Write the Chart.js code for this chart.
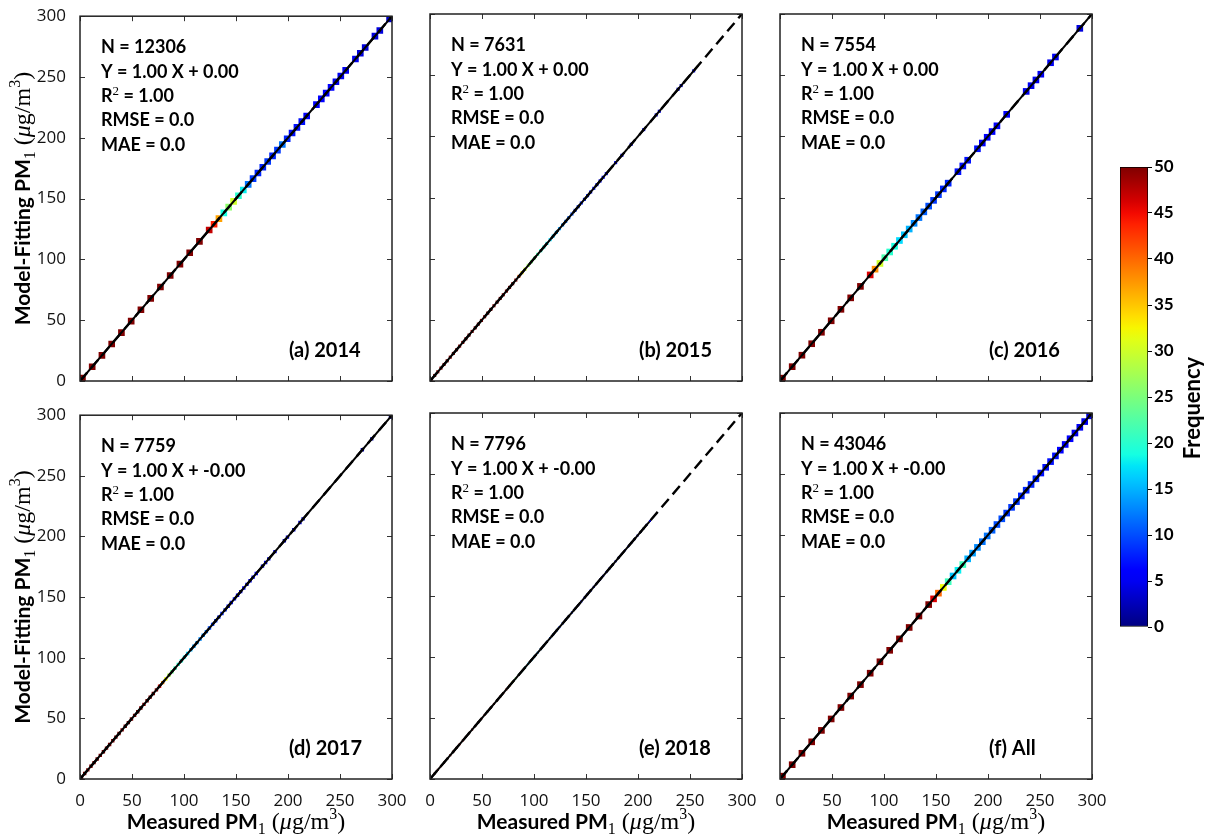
<!DOCTYPE html>
<html>
<head>
<meta charset="utf-8">
<title>PM1 model fitting</title>
<script src="https://cdn.jsdelivr.net/npm/chart.js@4.4.1/dist/chart.umd.min.js"></script>
<style>
  html, body { margin: 0; padding: 0; background: #fff; }
  #fig { position: relative; width: 1210px; height: 838px; overflow: hidden; }
  #fig canvas { position: absolute; }
</style>
</head>
<body>
<div id="fig"></div>
<script>
// ---------- data ----------
// coarse 2-D histogram bins (a, c, f): 64 bins over 0-300, centre of each bin
const coarseBins = [2.34, 7.03, 11.72, 16.41, 21.09, 25.78, 30.47, 35.16, 39.84, 44.53,
  49.22, 53.91, 58.59, 63.28, 67.97, 72.66, 77.34, 82.03, 86.72, 91.41,
  96.09, 100.78, 105.47, 110.16, 114.84, 119.53, 124.22, 128.91, 133.59, 138.28,
  142.97, 147.66, 152.34, 157.03, 161.72, 166.41, 171.09, 175.78, 180.47, 185.16,
  189.84, 194.53, 199.22, 203.91, 208.59, 213.28, 217.97, 222.66, 227.34, 232.03,
  236.72, 241.41, 246.09, 250.78, 255.47, 260.16, 264.84, 269.53, 274.22, 278.91,
  283.59, 288.28, 292.97, 297.66];
// fine bins (b, d, e): width 3
const fineBins = [1.5, 4.5, 7.5, 10.5, 13.5, 16.5, 19.5, 22.5, 25.5, 28.5,
  31.5, 34.5, 37.5, 40.5, 43.5, 46.5, 49.5, 52.5, 55.5, 58.5,
  61.5, 64.5, 67.5, 70.5, 73.5, 76.5, 79.5, 82.5, 85.5, 88.5,
  91.5, 94.5, 97.5, 100.5, 103.5, 106.5, 109.5, 112.5, 115.5, 118.5,
  121.5, 124.5, 127.5, 130.5, 133.5, 136.5, 139.5, 142.5, 145.5, 148.5,
  151.5, 154.5, 157.5, 160.5, 163.5, 166.5, 169.5, 172.5, 175.5, 178.5,
  181.5, 184.5, 187.5, 190.5, 193.5, 196.5, 199.5, 202.5, 205.5, 208.5,
  211.5, 214.5, 217.5, 220.5, 223.5, 226.5, 229.5, 232.5, 235.5, 238.5,
  241.5, 244.5, 247.5, 250.5, 253.5, 256.5, 259.5, 262.5, 265.5, 268.5,
  271.5, 274.5, 277.5, 280.5, 283.5, 286.5, 289.5, 292.5, 295.5, 298.5];

// frequency per diagonal bin (0 = empty bin)
const freqA = [60, 0, 60, 0, 60, 0, 60, 0, 60, 0, 60, 0, 60, 0, 60, 0, 60, 0, 60, 0,
  60, 0, 60, 0, 60, 0, 47, 44, 37, 19, 26, 30, 20, 18, 12, 9, 8, 8, 9, 8,
  9, 12, 8, 7, 7, 7, 6, 0, 6, 6, 6, 6, 5, 5, 5, 0, 5, 4, 4, 0,
  4, 4, 0, 3];
const freqB = [55, 55, 55, 55, 55, 55, 55, 55, 55, 55, 55, 55, 55, 55, 55, 55, 55, 55, 55, 55,
  55, 55, 55, 55, 55, 55, 55, 55, 40, 33, 30, 27, 25, 24, 22, 20, 19, 18, 17, 16,
  15, 14, 13, 12, 11, 10, 9, 9, 8, 8, 8, 7, 7, 7, 6, 6, 5, 0, 0, 5,
  0, 5, 0, 0, 4, 0, 0, 0, 4, 0, 0, 0, 4, 4, 0, 0, 0, 0, 0, 3,
  3, 0, 0, 0, 3];
const freqC = [60, 0, 60, 0, 60, 0, 60, 0, 60, 0, 60, 0, 60, 0, 60, 0, 60, 0, 46, 38,
  30, 22, 20, 19, 17, 16, 15, 13, 12, 11, 10, 9, 9, 8, 8, 0, 7, 7, 7, 0,
  7, 6, 6, 6, 6, 0, 6, 0, 0, 0, 5, 5, 5, 5, 0, 5, 5, 0, 0, 0,
  0, 4];
const freqD = [55, 55, 55, 55, 55, 55, 55, 55, 55, 55, 55, 55, 55, 55, 55, 55, 55, 55, 55, 55,
  55, 55, 55, 55, 55, 45, 38, 32, 28, 24, 21, 20, 19, 18, 17, 15, 14, 14, 13, 13,
  12, 10, 9, 9, 8, 8, 8, 7, 7, 7, 6, 6, 6, 5, 5, 5, 5, 0, 4, 4,
  4, 0, 4, 0, 0, 3, 3, 0, 3, 0, 3, 3, 0, 0, 0, 0, 0, 0, 0, 0,
  0, 0, 0, 0, 0, 0, 0, 0, 0, 0, 2, 0, 0, 2, 0, 0, 0, 0, 0, 2];
const freqE = [55, 55, 55, 55, 55, 55, 55, 55, 55, 55, 55, 55, 55, 55, 55, 55, 55, 55, 55, 55,
  55, 55, 55, 55, 55, 40, 32, 25, 22, 20, 18, 17, 16, 15, 14, 13, 12, 11, 11, 10,
  10, 9, 9, 8, 8, 8, 7, 7, 7, 6, 6, 5, 5, 5, 5, 4, 4, 4, 4, 4,
  3, 3, 3, 3, 3, 3, 2, 2, 2, 2, 2];
const freqF = [60, 0, 60, 0, 60, 0, 60, 0, 60, 0, 60, 0, 60, 0, 60, 0, 60, 0, 60, 0,
  60, 0, 60, 0, 60, 0, 60, 0, 60, 0, 60, 46, 40, 32, 21, 16, 18, 21, 15, 14,
  13, 12, 12, 11, 10, 10, 9, 9, 9, 8, 8, 8, 8, 7, 7, 7, 7, 6, 6, 6,
  5, 5, 5, 4];

const panelLabels = ['(a) 2014', '(b) 2015', '(c) 2016', '(d) 2017', '(e) 2018', '(f) All'];
const sampleSizes = ['12306', '7631', '7554', '7759', '7796', '43046'];
const fitEquations = ['1.00 X + 0.00', '1.00 X + 0.00', '1.00 X + 0.00',
  '1.00 X + -0.00', '1.00 X + -0.00', '1.00 X + -0.00'];
const r2Values = ['1.00', '1.00', '1.00', '1.00', '1.00', '1.00'];
const rmseValues = ['0.0', '0.0', '0.0', '0.0', '0.0', '0.0'];
const maeValues = ['0.0', '0.0', '0.0', '0.0', '0.0', '0.0'];
// the regression line is drawn over the measured range, the 1:1 line over the whole axis
const fitRangeMax = [300, 258, 300, 300, 211, 300];
const axisRange = [0, 300];
const axisTicks = [0, 50, 100, 150, 200, 250, 300];
const colorbarRange = [0, 50];
const colorbarTicks = [0, 5, 10, 15, 20, 25, 30, 35, 40, 45, 50];

// ---------- helpers ----------
function channel(t, pts) {
  for (let i = 1; i < pts.length; i++) {
    if (t <= pts[i][0]) {
      const [x0, y0] = pts[i - 1], [x1, y1] = pts[i];
      return y0 + (y1 - y0) * (t - x0) / (x1 - x0);
    }
  }
  return pts[pts.length - 1][1];
}
// matplotlib "jet"
function jet(v) {
  const t = Math.max(0, Math.min(1, v / colorbarRange[1]));
  const r = channel(t, [[0, 0], [0.35, 0], [0.66, 1], [0.89, 1], [1, 0.5]]);
  const g = channel(t, [[0, 0], [0.125, 0], [0.375, 1], [0.64, 1], [0.91, 0], [1, 0]]);
  const b = channel(t, [[0, 0.5], [0.11, 1], [0.34, 1], [0.65, 0], [1, 0]]);
  return 'rgb(' + Math.round(r * 255) + ',' + Math.round(g * 255) + ',' + Math.round(b * 255) + ')';
}

// draw a run of text pieces that use different fonts
function drawRuns(ctx, runs, x, y, align) {
  let total = 0;
  runs.forEach(r => { ctx.font = r.font; total += ctx.measureText(r.text).width; });
  let cx = align === 'center' ? x - total / 2 : x;
  ctx.textAlign = 'left';
  ctx.textBaseline = 'alphabetic';
  runs.forEach(r => {
    ctx.font = r.font;
    ctx.fillText(r.text, cx, y + (r.dy || 0));
    cx += ctx.measureText(r.text).width;
  });
}

const BOLD = 'bold 18px Lato';
const TICK_FONT = { family: '"Open Sans"', size: 17 };
const titleBold = 'bold 21px Lato';
const serif = '"Liberation Serif"';
function unitRuns(label) {
  return [
    { text: label, font: titleBold },
    { text: '1', font: '16px ' + serif, dy: 5 },
    { text: ' (', font: '24px ' + serif },
    { text: 'μ', font: 'italic 24px ' + serif },
    { text: 'g/m', font: '24px ' + serif },
    { text: '3', font: '16px ' + serif, dy: -10 },
    { text: ')', font: '24px ' + serif }
  ];
}

const panelBins = [coarseBins, fineBins, coarseBins, fineBins, fineBins, coarseBins];
const panelFreq = [freqA, freqB, freqC, freqD, freqE, freqF];
const markerRadius = [4.7, 2.2, 4.7, 2.4, 1.5, 4.7];

const colLeft = [80, 430, 780];
const rowTop = [14, 413];
const rowHeight = [367, 366];
const PLOT_W = 312;

const fig = document.getElementById('fig');

// ---------- six panels ----------
panelLabels.forEach((label, i) => {
  const col = i % 3, row = Math.floor(i / 3);
  const bottomRow = row === 1, leftCol = col === 0;
  const H = rowHeight[row];

  const canvas = document.createElement('canvas');
  canvas.width = 80 + PLOT_W + 26;
  canvas.height = 14 + H + (bottomRow ? 59 : 30);
  canvas.style.left = (colLeft[col] - 80) + 'px';
  canvas.style.top = (rowTop[row] - 14) + 'px';
  fig.appendChild(canvas);

  const bins = panelBins[i], freq = panelFreq[i];
  const points = [], colors = [];
  freq.forEach((f, k) => {
    if (f > 0) {
      points.push({ x: bins[k], y: bins[k] });
      colors.push(jet(f));
    }
  });

  const panelText = {
    id: 'panelText' + i,
    afterDatasetsDraw(chart) {
      const { ctx, chartArea: a, scales: { x, y } } = chart;
      ctx.save();
      // inward tick marks on all four sides, then the frame
      ctx.strokeStyle = '#333';
      ctx.lineWidth = 1;
      ctx.beginPath();
      axisTicks.forEach(v => {
        const px = Math.round(x.getPixelForValue(v)) + 0.5;
        const py = Math.round(y.getPixelForValue(v)) + 0.5;
        ctx.moveTo(px, a.bottom); ctx.lineTo(px, a.bottom - 5);
        ctx.moveTo(px, a.top); ctx.lineTo(px, a.top + 5);
        ctx.moveTo(a.left, py); ctx.lineTo(a.left + 5, py);
        ctx.moveTo(a.right, py); ctx.lineTo(a.right - 5, py);
      });
      ctx.stroke();
      ctx.strokeStyle = '#222';
      ctx.lineWidth = 1.5;
      ctx.strokeRect(a.left, a.top, a.right - a.left, a.bottom - a.top);

      // statistics block
      ctx.fillStyle = '#000';
      const tx = a.left + 21;
      drawRuns(ctx, [{ text: 'N = ' + sampleSizes[i], font: BOLD }], tx, a.top + 37);
      drawRuns(ctx, [{ text: 'Y = ' + fitEquations[i], font: BOLD }], tx, a.top + 61.5);
      drawRuns(ctx, [
        { text: 'R', font: BOLD },
        { text: '2', font: '13px ' + serif, dy: -7 },
        { text: ' = ' + r2Values[i], font: BOLD }
      ], tx, a.top + 86);
      drawRuns(ctx, [{ text: 'RMSE = ' + rmseValues[i], font: BOLD }], tx, a.top + 110);
      drawRuns(ctx, [{ text: 'MAE = ' + maeValues[i], font: BOLD }], tx, a.top + 134.5);
      drawRuns(ctx, [{ text: label, font: 'bold 20px Lato' }], a.left + 209, a.bottom - 24);

      // axis titles
      if (bottomRow) {
        drawRuns(ctx, unitRuns('Measured PM'), (a.left + a.right) / 2, a.bottom + 50, 'center');
      }
      if (leftCol) {
        ctx.translate(30, (a.top + a.bottom) / 2);
        ctx.rotate(-Math.PI / 2);
        drawRuns(ctx, unitRuns('Model-Fitting PM'), 0, 0, 'center');
      }
      ctx.restore();
    }
  };

  new Chart(canvas, {
    type: 'scatter',
    data: {
      datasets: [
        {
          // fitted line over the data range
          data: [{ x: axisRange[0], y: axisRange[0] }, { x: fitRangeMax[i], y: fitRangeMax[i] }],
          showLine: true, borderColor: '#000', borderWidth: 2, pointRadius: 0, order: 0
        },
        {
          // 1:1 reference line
          data: [{ x: axisRange[0], y: axisRange[0] }, { x: axisRange[1], y: axisRange[1] }],
          showLine: true, borderColor: '#000', borderWidth: 2.4, borderDash: [11, 6], pointRadius: 0, order: 1
        },
        {
          data: points,
          pointStyle: 'rect',
          pointRadius: markerRadius[i],
          pointHoverRadius: markerRadius[i],
          backgroundColor: colors,
          borderWidth: 0,
          order: 2
        }
      ]
    },
    options: {
      responsive: false,
      animation: false,
      events: [],
      devicePixelRatio: 1,
      layout: { autoPadding: false, padding: { left: 0, top: 14, right: 26, bottom: bottomRow ? 29 : 0 } },
      scales: {
        x: {
          type: 'linear', min: axisRange[0], max: axisRange[1],
          afterBuildTicks: s => { s.ticks = axisTicks.map(v => ({ value: v })); },
          ticks: { display: bottomRow, font: TICK_FONT, color: '#111', padding: 4, maxRotation: 0, autoSkip: false },
          grid: { display: false },
          border: { display: false },
          afterFit: s => { s.height = 30; }
        },
        y: {
          type: 'linear', min: axisRange[0], max: axisRange[1],
          afterBuildTicks: s => { s.ticks = axisTicks.map(v => ({ value: v })); },
          ticks: { display: leftCol, font: TICK_FONT, color: '#111', padding: 6, autoSkip: false },
          grid: { display: false },
          border: { display: false },
          afterFit: s => { s.width = 80; }
        }
      },
      plugins: { legend: { display: false }, tooltip: { enabled: false } }
    },
    plugins: [panelText]
  });
});

// ---------- colour bar ----------
const cb = document.createElement('canvas');
cb.width = 110; cb.height = 500;
cb.style.left = '1100px'; cb.style.top = '150px';
fig.appendChild(cb);

function jetGradient(chart) {
  const a = chart.chartArea;
  if (!a) return null;
  const g = chart.ctx.createLinearGradient(0, a.bottom, 0, a.top);
  for (let s = 0; s <= 40; s++) g.addColorStop(s / 40, jet(colorbarRange[1] * s / 40));
  return g;
}

const freqTitle = {
  id: 'freqTitle',
  afterDraw(chart) {
    const ctx = chart.ctx;
    ctx.save();
    ctx.translate(100, 258);
    ctx.rotate(-Math.PI / 2);
    ctx.fillStyle = '#000';
    ctx.font = 'bold 22px Lato';
    ctx.textAlign = 'center';
    ctx.textBaseline = 'alphabetic';
    ctx.fillText('Frequency', 0, 0);
    ctx.restore();
  }
};

new Chart(cb, {
  type: 'bar',
  data: {
    labels: ['Frequency'],
    datasets: [{
      data: [colorbarRange],
      backgroundColor: ctx => jetGradient(ctx.chart),
      borderColor: '#000', borderWidth: 1, borderSkipped: false,
      barPercentage: 1, categoryPercentage: 1
    }]
  },
  options: {
    responsive: false,
    animation: false,
    events: [],
    devicePixelRatio: 1,
    layout: { autoPadding: false, padding: { left: 20, top: 17, bottom: 23, right: 0 } },
    scales: {
      x: { display: false },
      y: {
        position: 'right', min: colorbarRange[0], max: colorbarRange[1],
        afterBuildTicks: s => { s.ticks = colorbarTicks.map(v => ({ value: v })); },
        ticks: { font: { family: 'Lato', size: 17, weight: 'bold' }, color: '#000', padding: 2 },
        grid: { drawOnChartArea: false, tickLength: 4, color: '#000' },
        border: { display: false },
        afterFit: s => { s.width = 62; }
      }
    },
    plugins: { legend: { display: false }, tooltip: { enabled: false } }
  },
  plugins: [freqTitle]
});
</script>
</body>
</html>
